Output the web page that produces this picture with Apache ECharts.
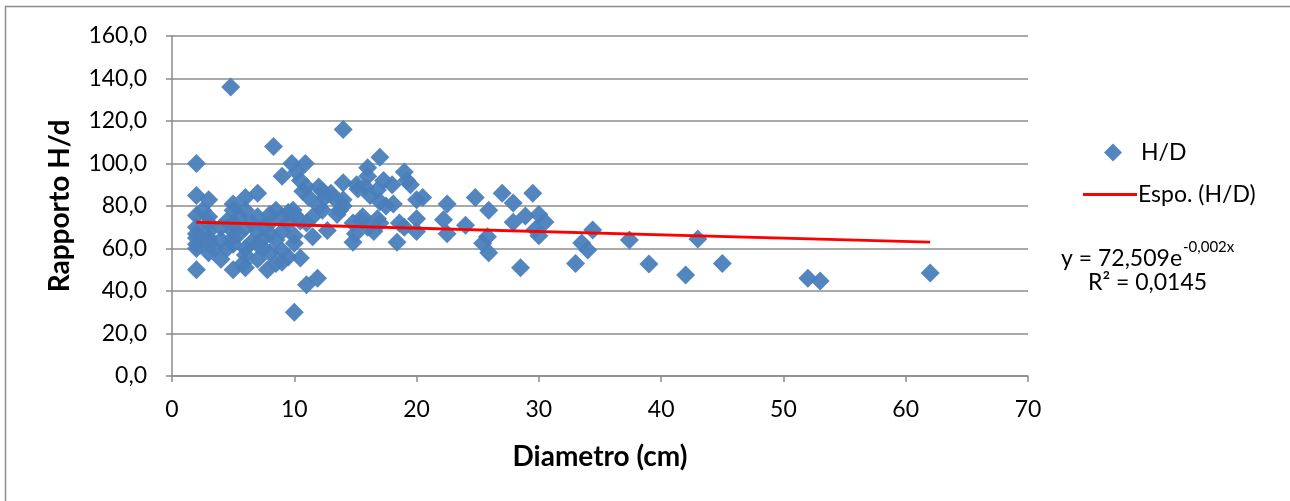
<!DOCTYPE html>
<html>
<head>
<meta charset="utf-8">
<script src="https://cdn.jsdelivr.net/npm/echarts@6/dist/echarts.min.js"></script>
<style>
  html, body { margin: 0; padding: 0; background: #fff; }
  #chart { width: 1290px; height: 501px; }
</style>
</head>
<body>
<div id="chart"></div>
<script>
// H/D ratio vs diameter
const hdPoints = [
  [2,100],[2,85],[2,75.5],[2,70],[2,67],[2,65],[2,62],[2,60],[2,50],
  [3,83],[3,75],[3,72],[3,68],[3,65],[3,62],[3,58],[2.5,78],[3.5,60],
  [4,70],[4,64],[4,55],[4.5,73],[4.5,60],
  [4.8,136],[5,81],[5,78],[5,72],[5,68],[5,65],[5,62],[5,50],[5.5,67],[5.5,75],
  [6,84],[6,78],[6,70],[6,60],[6,57],[6,51],[5.8,53],[6.5,63],[6.5,72],
  [7,86],[7,75],[7,68],[7,62],[7,55],[7.5,60],[7.5,65],[7.5,70],
  [7.8,50],[8,76],[8,72],[8,67],[8,58],[8.3,108],[8.5,64],[8.5,53],[8.5,78],
  [9,94],[9,75],[9,68],[9,59],[9,53.5],[9.5,77],[9.5,72],[9.5,56],
  [9.8,100],[10.2,96],[9.9,78],[10,62.5],[10,66],[10,30],[10.5,92],[10.5,73],[10.5,55.5],[10,76],
  [10.9,100],[10.7,87],[11,89],[11,72],[11,43],[11.5,65.5],[11.9,46],[11.5,75],[11.2,84],
  [12,89],[12.3,87],[12.3,78],[12.7,68.5],[12,80],[12.5,84],[13,86],
  [13.2,84],[13.5,76],[13.7,78],
  [14,116],[14,91],[14,83],[14,80],[14.8,72],[14.8,63],
  [15.1,90],[15.6,75],[15.5,73],[15,67],[15.2,88],
  [16,98],[16.2,85],[15.8,89],[16,94],[16.5,68],[16,70],
  [17,103],[16.8,87.5],[16.8,74],[17.3,92],[17,82],[17.5,80],[17,72],
  [18.1,81],[18.4,63],[18.6,72],[18,90],
  [19,96],[19.2,92],[19.5,90],[19,70],
  [20,83],[20,74],[20,68],[20.5,84],
  [22.2,73.5],[22.5,81],[22.5,67],
  [24,71],
  [24.8,84],[25.4,62.5],[25.8,65.5],[25.9,78],[25.9,58],
  [27,86],[27.9,81.4],[27.9,72.4],[28.9,75.3],[28.5,51],
  [29.5,86],[30,76],[30.5,72.5],[30,66],[29.7,69],
  [33,53],[33.5,62.6],[34,59.3],[34.4,68.7],[37.4,64],[39,52.7],
  [42,47.5],[43,64.5],[45,53],[52,46],[53,44.7],[62,48.5]
];

// exponential trendline endpoints as drawn
const trendPoints = [[2,72.3],[62,63.0]];

const yTicks = { min: 0, max: 160, step: 20 };
const xTicks = { min: 0, max: 70, step: 10 };

const font = 'Lato, "Open Sans", sans-serif';
const gridGray = '#8c8c8c';

const chart = echarts.init(document.getElementById('chart'));

const option = {
  backgroundColor: '#fff',
  animation: false,
  grid: { left: 172, right: 262, top: 36, bottom: 125 },
  xAxis: {
    type: 'value',
    min: xTicks.min, max: xTicks.max, interval: xTicks.step,
    name: 'Diametro (cm)',
    nameLocation: 'middle',
    nameGap: 67,
    nameTextStyle: { fontFamily: font, fontSize: 28, fontWeight: 'bold', color: '#000' },
    axisLine: { show: true, lineStyle: { color: gridGray, width: 1.5 } },
    axisTick: { show: true, length: 6, lineStyle: { color: gridGray, width: 1.5 } },
    axisLabel: { fontFamily: font, fontSize: 23, color: '#000', margin: 22 },
    splitLine: { show: false }
  },
  yAxis: {
    type: 'value',
    min: yTicks.min, max: yTicks.max, interval: yTicks.step,
    name: 'Rapporto H/d',
    nameLocation: 'middle',
    nameGap: 98,
    nameRotate: 90,
    nameTextStyle: { fontFamily: font, fontSize: 28, fontWeight: 'bold', color: '#000' },
    axisLine: { show: true, lineStyle: { color: gridGray, width: 1.5 } },
    axisTick: { show: true, length: 6, lineStyle: { color: gridGray, width: 1.5 } },
    axisLabel: {
      fontFamily: font, fontSize: 23, color: '#000', margin: 25,
      formatter: v => v.toFixed(1).replace('.', ',')
    },
    splitLine: { show: true, lineStyle: { color: gridGray, width: 1.5 } }
  },
  legend: [
    {
      data: [{ name: 'H/D', icon: 'diamond' }],
      left: 1099, top: 136,
      itemWidth: 18, itemHeight: 18, itemGap: 8,
      textStyle: { fontFamily: font, fontSize: 23, color: '#000', padding: [0, 0, 0, 14] }
    },
    {
      data: [{ name: 'Espo. (H/D)', icon: 'rect' }],
      left: 1078, top: 178,
      itemWidth: 54, itemHeight: 3,
      textStyle: { fontFamily: font, fontSize: 23, color: '#000', padding: [0, 0, 0, -4] }
    }
  ],
  series: [
    {
      name: 'H/D',
      type: 'scatter',
      symbol: 'diamond',
      symbolSize: 19,
      itemStyle: { color: '#4a7ebb', opacity: 0.95 },
      data: hdPoints
    },
    {
      name: 'Espo. (H/D)',
      type: 'line',
      showSymbol: false,
      lineStyle: { color: '#ff0000', width: 3 },
      itemStyle: { color: '#ff0000' },
      data: trendPoints,
      z: 3
    }
  ],
  graphic: [
    {
      type: 'rect',
      shape: { x: 5.5, y: 6.5, width: 1300, height: 520 },
      style: { fill: 'none', stroke: '#8c8c8c', lineWidth: 1.5 },
      silent: true
    },
    {
      type: 'text',
      left: 1061, top: 240,
      style: {
        text: '{b|y = 72,509e}{s|-0,002x}',
        rich: {
          b: { fontFamily: font, fontSize: 23, fill: '#000', verticalAlign: 'bottom', lineHeight: 30 },
          s: { fontFamily: font, fontSize: 15, fill: '#000', verticalAlign: 'top', padding: [0, 0, 12, 1] }
        }
      }
    },
    {
      type: 'text',
      left: 1088, top: 271,
      style: { text: 'R² = 0,0145', fontFamily: font, fontSize: 23, fill: '#000' }
    }
  ]
};

chart.setOption(option);
</script>
</body>
</html>
